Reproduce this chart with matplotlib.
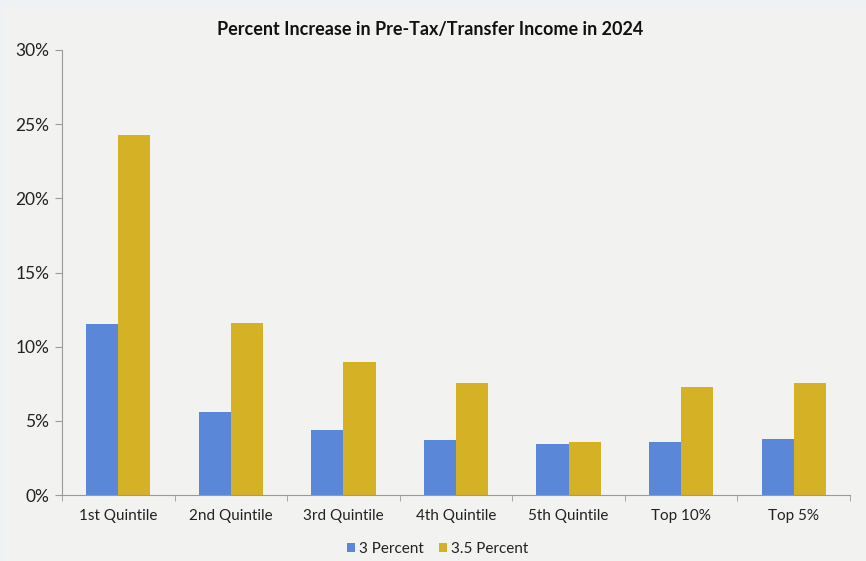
import matplotlib.pyplot as plt
import numpy as np
from matplotlib.ticker import FuncFormatter

plt.rcParams['font.family'] = ['Lato', 'DejaVu Sans']

groups = ['1st Quintile', '2nd Quintile', '3rd Quintile', '4th Quintile',
          '5th Quintile', 'Top 10%', 'Top 5%']
growth_3 = [11.5, 5.6, 4.4, 3.7, 3.45, 3.55, 3.75]
growth_35 = [24.3, 11.6, 9.0, 7.55, 3.55, 7.3, 7.55]

blue = '#5b87d9'
gold = '#d5b126'
bg = '#f2f2f0'
edge = '#eef2f5'

fig = plt.figure(figsize=(8.66, 5.61), dpi=100, facecolor=bg)
# thin frame strips along the top and left edge
fig.patches.append(plt.Rectangle((0, 0.985), 1, 0.015, transform=fig.transFigure,
                                 facecolor=edge, edgecolor='none', zorder=-1))
fig.patches.append(plt.Rectangle((0, 0), 0.006, 1, transform=fig.transFigure,
                                 facecolor=edge, edgecolor='none', zorder=-1))
ax = fig.add_axes([0.0716, 0.1176, 0.9099, 0.7933])
ax.set_facecolor(bg)
ax.set_zorder(2)

x = np.arange(len(groups))
w = 0.285
ax.bar(x - w / 2, growth_3, w, color=blue, label='3 Percent', zorder=2)
ax.bar(x + w / 2, growth_35, w, color=gold, label='3.5 Percent', zorder=2)

ax.set_xlim(-0.5, len(groups) - 0.5)
ax.set_ylim(0, 30)
ax.set_yticks(range(0, 31, 5))
ax.yaxis.set_major_formatter(FuncFormatter(lambda v, p: f'{v:.0f}%'))
ax.set_xticks(x)
ax.set_xticklabels(groups)
ax.set_xticks(np.arange(-0.5, len(groups), 1), minor=True)

for s in ['top', 'right']:
    ax.spines[s].set_visible(False)
for s in ['left', 'bottom']:
    ax.spines[s].set_color('#9a9a9a')
    ax.spines[s].set_linewidth(0.8)

ax.tick_params(axis='y', length=5, color='#9a9a9a', labelsize=12.5, pad=4, labelcolor='#222222')
ax.tick_params(axis='x', which='major', length=0, labelsize=11, pad=10, labelcolor='#222222')
ax.tick_params(axis='x', which='minor', length=4, color='#9a9a9a', direction='out')

fig.text(0.497, 0.948, 'Percent Increase in Pre-Tax/Transfer Income in 2024',
         ha='center', va='center', fontsize=13, fontweight='bold', color='#111111')

ax.legend(loc='upper center', bbox_to_anchor=(0.477, -0.075), ncol=2, frameon=False,
          fontsize=11, handlelength=0.5, handleheight=0.5, handletextpad=0.3,
          columnspacing=1.0, labelcolor='#222222')

fig.savefig('out.png', dpi=100, facecolor=fig.get_facecolor())
